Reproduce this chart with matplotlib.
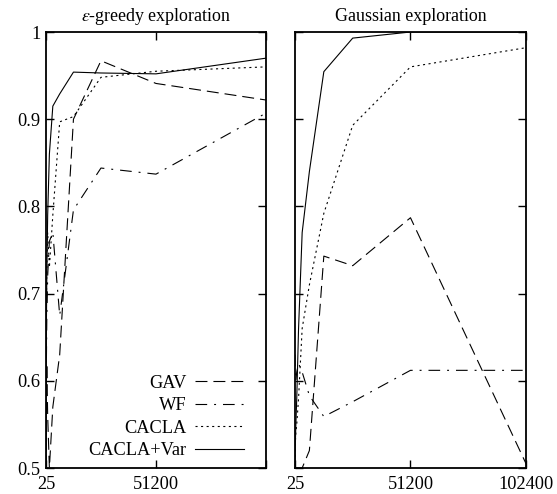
import matplotlib
matplotlib.use('Agg')
import matplotlib.pyplot as plt

plt.rcParams['font.family'] = ['Liberation Serif', 'DejaVu Serif']
plt.rcParams['mathtext.fontset'] = 'stix'
plt.rcParams['font.size'] = 13.2
plt.rcParams['lines.scale_dashes'] = False

# training steps (x axis)
steps = [25, 50, 100, 200, 400, 800, 1600, 3200, 6400, 12800, 25600, 51200, 102400]

# epsilon-greedy exploration
gav_eps = [0.50, 0.52, 0.55, 0.58, 0.62, 0.56, 0.50, 0.57, 0.63, 0.900, 0.967, 0.941, 0.922]
wf_eps = [0.50, 0.53, 0.57, 0.62, 0.67, 0.72, 0.76, 0.77, 0.675, 0.796, 0.844, 0.837, 0.907]
cacla_eps = [0.50, 0.56, 0.62, 0.68, 0.73, 0.77, 0.73, 0.79, 0.897, 0.903, 0.948, 0.955, 0.960]
var_eps = [0.50, 0.55, 0.60, 0.66, 0.72, 0.79, 0.86, 0.915, 0.929, 0.954, 0.953, 0.952, 0.970]

# Gaussian exploration
gav_gauss = [0.50, 0.50, 0.50, 0.50, 0.50, 0.50, 0.50, 0.50, 0.52, 0.743, 0.732, 0.787, 0.505]
wf_gauss = [0.63, 0.62, 0.61, 0.60, 0.60, 0.61, 0.62, 0.61, 0.583, 0.559, 0.576, 0.612, 0.612]
cacla_gauss = [0.50, 0.51, 0.52, 0.53, 0.54, 0.55, 0.58, 0.66, 0.71, 0.792, 0.893, 0.960, 0.982]
var_gauss = [0.50, 0.51, 0.52, 0.53, 0.55, 0.58, 0.66, 0.77, 0.84, 0.9545, 0.993, 1.0, 1.0]

labels = ['GAV', 'WF', 'CACLA', 'CACLA+Var']
yticks = [0.5, 0.6, 0.7, 0.8, 0.9, 1.0]
ytick_labels = ['0.5', '0.6', '0.7', '0.8', '0.9', '1']
xticks = [25, 51200, 102400]

# line styles (gnuplot-like)
styles = [
    dict(linestyle=(0, (8.6, 4.3))),
    dict(linestyle=(0, (8.4, 5.0, 1.4, 5.0))),
    dict(linestyle=(0, (1.5, 2.5))),
    dict(linestyle='-'),
]

fig = plt.figure(figsize=(5.57, 4.94), dpi=100)
ax1 = fig.add_axes([46 / 557, 1 - 468 / 494, 220 / 557, 436 / 494])
ax2 = fig.add_axes([295 / 557, 1 - 468 / 494, 231 / 557, 436 / 494])


def setup(ax, title, xlabels, ylabels):
    ax.set_xlim(25, 102400)
    ax.set_ylim(0.5, 1.0)
    ax.set_xticks(xticks)
    ax.set_xticklabels(xlabels)
    ax.set_yticks(yticks)
    ax.set_yticklabels(ylabels)
    ax.tick_params(direction='in', length=6, width=1, top=True, right=True,
                   labelsize=13.2, color='black')
    ax.tick_params(axis='x', pad=5.5)
    ax.tick_params(axis='y', pad=4)
    for s in ax.spines.values():
        s.set_linewidth(1.3)
    ax.set_title(title, fontsize=12.9, pad=8)


series_eps = [gav_eps, wf_eps, cacla_eps, var_eps]
series_gauss = [gav_gauss, wf_gauss, cacla_gauss, var_gauss]

for vals, lab, st in zip(series_eps, labels, styles):
    ax1.plot(steps, vals, color='black', linewidth=0.8, label=lab, **st)
for vals, st in zip(series_gauss, styles):
    ax2.plot(steps, vals, color='black', linewidth=0.8, **st)

setup(ax1, r'$\epsilon$-greedy exploration', ['25', '51200', ''], ytick_labels)
setup(ax2, 'Gaussian exploration', ['25', '51200', '102400'], ['' for _ in yticks])

ax1.legend(loc='lower right', bbox_to_anchor=(0.9, 0.02), frameon=False,
           markerfirst=False, handlelength=2.7, handletextpad=0.45,
           labelspacing=0.3, borderpad=0, borderaxespad=0, fontsize=13.2)

fig.savefig('out.png', dpi=100)
